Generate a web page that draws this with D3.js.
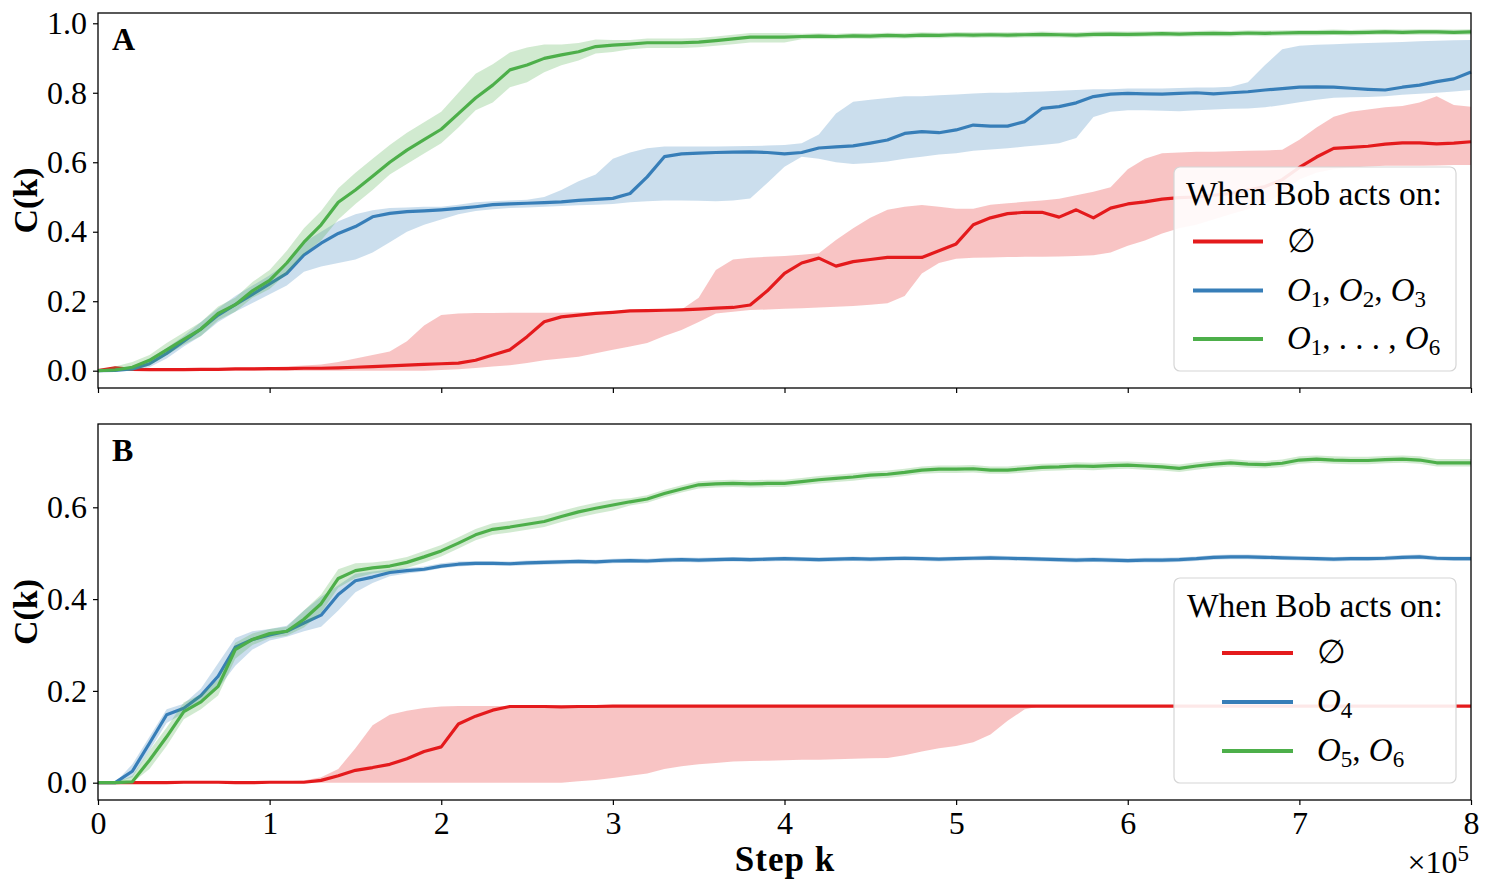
<!DOCTYPE html>
<html>
<head>
<meta charset="utf-8">
<script src="https://cdn.jsdelivr.net/npm/d3@7"></script>
<style>
  body { margin: 0; background: #fff; }
  svg text { font-family: "Liberation Serif", "DejaVu Serif", serif; fill: #000; }
</style>
</head>
<body>
<svg id="chart" width="1489" height="889"></svg>
<script>
// step k, in units of 1e5
const stepK = [0,0.1,0.2,0.3,0.4,0.5,0.6,0.7,0.8,0.9,
  1,1.1,1.2,1.3,1.4,1.5,1.6,1.7,1.8,1.9,
  2,2.1,2.2,2.3,2.4,2.5,2.6,2.7,2.8,2.9,
  3,3.1,3.2,3.3,3.4,3.5,3.6,3.7,3.8,3.9,
  4,4.1,4.2,4.3,4.4,4.5,4.6,4.7,4.8,4.9,
  5,5.1,5.2,5.3,5.4,5.5,5.6,5.7,5.8,5.9,
  6,6.1,6.2,6.3,6.4,6.5,6.6,6.7,6.8,6.9,
  7,7.1,7.2,7.3,7.4,7.5,7.6,7.7,7.8,7.9,
  8];

// ---- panel A ----
const aNoneMean = [0,0.008,0.004,0.003,0.003,0.003,0.004,0.004,0.005,0.005,
  0.006,0.006,0.007,0.007,0.008,0.01,0.012,0.014,0.016,0.018,
  0.02,0.022,0.03,0.045,0.06,0.098,0.141,0.155,0.16,0.165,
  0.168,0.172,0.173,0.174,0.175,0.177,0.18,0.182,0.189,0.23,
  0.28,0.31,0.324,0.301,0.314,0.32,0.326,0.326,0.326,0.345,
  0.365,0.42,0.44,0.452,0.456,0.456,0.442,0.463,0.44,0.468,
  0.48,0.486,0.494,0.498,0.5,0.505,0.51,0.52,0.53,0.55,
  0.585,0.615,0.64,0.643,0.646,0.652,0.656,0.656,0.653,0.655,
  0.659];
const aNoneHi = [0,0.012,0.008,0.006,0.006,0.006,0.007,0.007,0.008,0.009,
  0.01,0.012,0.015,0.018,0.025,0.035,0.045,0.055,0.085,0.13,
  0.16,0.165,0.166,0.166,0.167,0.167,0.167,0.167,0.168,0.168,
  0.169,0.172,0.173,0.175,0.176,0.21,0.29,0.32,0.325,0.328,
  0.33,0.334,0.338,0.376,0.41,0.44,0.463,0.472,0.477,0.472,
  0.466,0.466,0.478,0.482,0.486,0.49,0.495,0.505,0.515,0.528,
  0.58,0.61,0.626,0.628,0.63,0.63,0.632,0.633,0.634,0.636,
  0.665,0.7,0.731,0.745,0.752,0.758,0.762,0.772,0.79,0.765,
  0.76];
const aNoneLo = [0,0.002,0,0,0,0,0,0,0,0,
  0,0,0,0,0,0,0,0,0,0,
  0.002,0.004,0.008,0.012,0.016,0.022,0.03,0.035,0.04,0.05,
  0.06,0.07,0.08,0.1,0.117,0.14,0.165,0.17,0.175,0.176,
  0.178,0.18,0.182,0.184,0.186,0.19,0.194,0.215,0.28,0.31,
  0.322,0.325,0.326,0.327,0.328,0.328,0.329,0.33,0.332,0.34,
  0.36,0.375,0.395,0.41,0.42,0.435,0.45,0.465,0.48,0.51,
  0.55,0.57,0.58,0.585,0.588,0.59,0.59,0.59,0.591,0.592,
  0.592];

const aO123Mean = [0,0.001,0.005,0.02,0.05,0.085,0.12,0.16,0.19,0.22,
  0.25,0.28,0.333,0.367,0.395,0.415,0.443,0.453,0.458,0.46,
  0.463,0.467,0.472,0.478,0.48,0.482,0.484,0.486,0.49,0.493,
  0.496,0.51,0.558,0.616,0.624,0.626,0.628,0.629,0.63,0.628,
  0.624,0.628,0.641,0.644,0.647,0.655,0.664,0.683,0.688,0.685,
  0.693,0.707,0.704,0.704,0.717,0.755,0.76,0.771,0.789,0.796,
  0.798,0.797,0.796,0.798,0.8,0.797,0.8,0.803,0.808,0.812,
  0.816,0.817,0.816,0.813,0.81,0.808,0.816,0.822,0.832,0.84,
  0.86];
const aO123Hi = [0,0.005,0.012,0.035,0.065,0.1,0.14,0.18,0.215,0.245,
  0.275,0.31,0.37,0.4,0.43,0.45,0.462,0.468,0.47,0.472,
  0.472,0.478,0.485,0.488,0.49,0.492,0.5,0.52,0.545,0.565,
  0.61,0.628,0.64,0.645,0.645,0.645,0.645,0.646,0.647,0.648,
  0.65,0.655,0.68,0.74,0.774,0.78,0.785,0.79,0.79,0.793,
  0.795,0.798,0.8,0.8,0.802,0.804,0.806,0.808,0.81,0.81,
  0.812,0.812,0.812,0.814,0.815,0.815,0.817,0.83,0.88,0.925,
  0.935,0.938,0.94,0.942,0.943,0.945,0.946,0.948,0.95,0.951,
  0.952];
const aO123Lo = [0,0,0,0.01,0.035,0.07,0.1,0.14,0.17,0.195,
  0.22,0.245,0.285,0.3,0.31,0.32,0.34,0.37,0.4,0.42,
  0.435,0.45,0.46,0.465,0.468,0.47,0.472,0.474,0.476,0.478,
  0.48,0.485,0.488,0.49,0.49,0.489,0.488,0.49,0.496,0.54,
  0.587,0.616,0.61,0.6,0.595,0.598,0.602,0.61,0.616,0.622,
  0.626,0.633,0.637,0.64,0.645,0.65,0.655,0.67,0.73,0.745,
  0.75,0.75,0.748,0.747,0.75,0.752,0.754,0.755,0.758,0.765,
  0.773,0.78,0.786,0.787,0.788,0.79,0.794,0.797,0.8,0.804,
  0.808];

const aO1to6Mean = [0,0.002,0.01,0.03,0.06,0.09,0.12,0.165,0.19,0.23,
  0.26,0.31,0.37,0.42,0.485,0.52,0.56,0.6,0.635,0.665,
  0.695,0.74,0.785,0.822,0.866,0.88,0.899,0.909,0.918,0.933,
  0.937,0.94,0.944,0.944,0.944,0.946,0.95,0.955,0.96,0.96,
  0.96,0.962,0.963,0.962,0.964,0.963,0.965,0.964,0.966,0.965,
  0.967,0.966,0.967,0.966,0.967,0.968,0.967,0.966,0.968,0.969,
  0.968,0.969,0.97,0.969,0.97,0.971,0.97,0.972,0.971,0.972,
  0.973,0.973,0.974,0.973,0.974,0.975,0.974,0.975,0.975,0.974,
  0.975];
const aO1to6Hi = [0,0.012,0.025,0.045,0.08,0.11,0.14,0.185,0.21,0.255,
  0.29,0.345,0.41,0.46,0.525,0.57,0.61,0.65,0.685,0.715,
  0.745,0.8,0.855,0.882,0.916,0.93,0.939,0.939,0.943,0.953,
  0.952,0.952,0.956,0.956,0.956,0.958,0.962,0.967,0.972,0.972,
  0.972,0.97,0.971,0.97,0.972,0.971,0.973,0.972,0.974,0.973,
  0.975,0.974,0.975,0.974,0.975,0.976,0.975,0.974,0.976,0.977,
  0.976,0.977,0.978,0.977,0.978,0.979,0.978,0.98,0.979,0.98,
  0.981,0.981,0.982,0.981,0.982,0.983,0.982,0.983,0.983,0.982,
  0.983];
const aO1to6Lo = [0,0,0,0.015,0.045,0.075,0.1,0.145,0.17,0.21,
  0.235,0.28,0.335,0.375,0.435,0.48,0.52,0.565,0.595,0.625,
  0.655,0.7,0.75,0.772,0.816,0.83,0.859,0.879,0.893,0.913,
  0.917,0.925,0.929,0.929,0.929,0.931,0.935,0.94,0.945,0.945,
  0.945,0.954,0.955,0.954,0.956,0.955,0.957,0.956,0.958,0.957,
  0.959,0.958,0.959,0.958,0.959,0.96,0.959,0.958,0.96,0.961,
  0.96,0.961,0.962,0.961,0.962,0.963,0.962,0.964,0.963,0.964,
  0.965,0.965,0.966,0.965,0.966,0.967,0.966,0.967,0.967,0.966,
  0.967];

// ---- panel B ----
const bNoneMean = [0,0,0,0,0,0.001,0.001,0.001,0,0,
  0.001,0.001,0.001,0.005,0.015,0.027,0.033,0.04,0.052,0.068,
  0.078,0.128,0.145,0.158,0.166,0.166,0.166,0.165,0.166,0.166,
  0.167,0.167,0.167,0.167,0.167,0.167,0.167,0.167,0.167,0.167,
  0.167,0.167,0.167,0.167,0.167,0.167,0.167,0.167,0.167,0.167,
  0.167,0.167,0.167,0.167,0.167,0.167,0.167,0.167,0.167,0.167,
  0.167,0.167,0.167,0.167,0.167,0.167,0.167,0.167,0.167,0.167,
  0.167,0.167,0.167,0.167,0.167,0.167,0.167,0.167,0.167,0.167,
  0.167];
const bNoneHi = [0,0.001,0.001,0.001,0.001,0.002,0.002,0.002,0.002,0.002,
  0.003,0.003,0.005,0.012,0.03,0.075,0.125,0.148,0.157,0.163,
  0.166,0.167,0.167,0.167,0.167,0.167,0.167,0.167,0.167,0.167,
  0.167,0.167,0.167,0.167,0.167,0.167,0.167,0.167,0.167,0.167,
  0.167,0.167,0.167,0.167,0.167,0.167,0.167,0.167,0.167,0.167,
  0.167,0.167,0.167,0.167,0.167,0.167,0.167,0.167,0.167,0.167,
  0.167,0.167,0.167,0.167,0.167,0.167,0.167,0.167,0.167,0.167,
  0.167,0.167,0.167,0.167,0.167,0.167,0.167,0.167,0.167,0.167,
  0.167];
const bNoneLo = [0,0,0,0,0,0,0,0,0,0,
  0,0,0,0,0,0,0,0,0,0,
  0,0,0,0,0,0,0,0,0.003,0.006,
  0.01,0.015,0.02,0.03,0.036,0.04,0.043,0.046,0.047,0.048,
  0.049,0.05,0.05,0.051,0.052,0.053,0.054,0.06,0.068,0.075,
  0.08,0.088,0.105,0.135,0.16,0.167,0.167,0.167,0.167,0.167,
  0.167,0.167,0.167,0.167,0.167,0.167,0.167,0.167,0.167,0.167,
  0.167,0.167,0.167,0.167,0.167,0.167,0.167,0.167,0.167,0.167,
  0.167];

const bO4Mean = [0,0,0.025,0.086,0.148,0.162,0.19,0.232,0.295,0.312,
  0.322,0.33,0.348,0.365,0.41,0.44,0.448,0.458,0.462,0.465,
  0.472,0.476,0.478,0.478,0.477,0.479,0.48,0.481,0.482,0.481,
  0.483,0.484,0.483,0.485,0.486,0.485,0.486,0.487,0.486,0.487,
  0.488,0.487,0.486,0.487,0.488,0.487,0.488,0.489,0.488,0.487,
  0.488,0.489,0.49,0.489,0.488,0.487,0.486,0.485,0.486,0.485,
  0.484,0.485,0.485,0.486,0.488,0.491,0.492,0.492,0.491,0.49,
  0.489,0.488,0.487,0.488,0.488,0.489,0.491,0.492,0.489,0.488,
  0.488];
const bO4Hi = [0,0,0.04,0.1,0.16,0.172,0.205,0.26,0.315,0.33,
  0.335,0.342,0.375,0.405,0.43,0.455,0.46,0.465,0.468,0.471,
  0.478,0.482,0.483,0.483,0.482,0.484,0.485,0.486,0.487,0.486,
  0.488,0.489,0.488,0.49,0.491,0.49,0.491,0.492,0.491,0.492,
  0.493,0.492,0.491,0.492,0.493,0.492,0.493,0.494,0.493,0.492,
  0.493,0.494,0.495,0.494,0.493,0.492,0.491,0.49,0.491,0.49,
  0.489,0.49,0.49,0.491,0.493,0.496,0.497,0.497,0.496,0.495,
  0.494,0.493,0.492,0.493,0.493,0.494,0.496,0.497,0.494,0.493,
  0.493];
const bO4Lo = [0,0,0.012,0.07,0.13,0.152,0.175,0.205,0.255,0.29,
  0.31,0.318,0.33,0.34,0.375,0.415,0.435,0.45,0.456,0.46,
  0.467,0.471,0.473,0.473,0.472,0.474,0.475,0.476,0.477,0.476,
  0.478,0.479,0.478,0.48,0.481,0.48,0.481,0.482,0.481,0.482,
  0.483,0.482,0.481,0.482,0.483,0.482,0.483,0.484,0.483,0.482,
  0.483,0.484,0.485,0.484,0.483,0.482,0.481,0.48,0.481,0.48,
  0.479,0.48,0.48,0.481,0.483,0.486,0.487,0.487,0.486,0.485,
  0.484,0.483,0.482,0.483,0.483,0.484,0.486,0.487,0.484,0.483,
  0.483];

const bO56Mean = [0,0,0.002,0.049,0.1,0.155,0.176,0.21,0.29,0.312,
  0.325,0.33,0.356,0.39,0.445,0.462,0.468,0.472,0.48,0.492,
  0.505,0.522,0.54,0.552,0.557,0.563,0.569,0.58,0.59,0.598,
  0.605,0.612,0.618,0.63,0.64,0.649,0.651,0.652,0.651,0.652,
  0.652,0.656,0.66,0.663,0.666,0.67,0.672,0.676,0.681,0.683,
  0.683,0.684,0.681,0.681,0.684,0.687,0.688,0.69,0.689,0.691,
  0.692,0.69,0.688,0.685,0.69,0.694,0.697,0.694,0.693,0.696,
  0.703,0.705,0.703,0.702,0.702,0.704,0.705,0.703,0.697,0.697,
  0.697];
const bO56Hi = [0,0,0.015,0.07,0.12,0.175,0.192,0.225,0.305,0.325,
  0.335,0.34,0.375,0.41,0.465,0.478,0.48,0.484,0.492,0.505,
  0.518,0.535,0.553,0.565,0.57,0.576,0.582,0.592,0.602,0.61,
  0.617,0.62,0.626,0.638,0.648,0.657,0.659,0.66,0.659,0.66,
  0.66,0.664,0.668,0.671,0.674,0.678,0.68,0.684,0.689,0.691,
  0.691,0.692,0.689,0.689,0.692,0.695,0.696,0.698,0.697,0.699,
  0.7,0.698,0.696,0.693,0.698,0.702,0.705,0.702,0.701,0.704,
  0.711,0.713,0.711,0.71,0.71,0.712,0.713,0.711,0.705,0.705,
  0.705];
const bO56Lo = [0,0,0,0.03,0.08,0.138,0.16,0.19,0.27,0.3,
  0.315,0.32,0.338,0.37,0.425,0.446,0.456,0.46,0.468,0.48,
  0.493,0.51,0.528,0.54,0.545,0.551,0.557,0.568,0.578,0.586,
  0.593,0.604,0.61,0.622,0.632,0.641,0.643,0.644,0.643,0.644,
  0.644,0.648,0.652,0.655,0.658,0.662,0.664,0.668,0.673,0.675,
  0.675,0.676,0.673,0.673,0.676,0.679,0.68,0.682,0.681,0.683,
  0.684,0.682,0.68,0.677,0.682,0.686,0.689,0.686,0.685,0.688,
  0.695,0.697,0.695,0.694,0.694,0.696,0.697,0.695,0.689,0.689,
  0.689];

const xTicks = [0, 1, 2, 3, 4, 5, 6, 7, 8];
const yTicksA = [0, 0.2, 0.4, 0.6, 0.8, 1.0];
const yTicksB = [0, 0.2, 0.4, 0.6];
const legendTitle = 'When Bob acts on:';

const RED = '#e41a1c';
const BLUE = '#377eb8';
const GREEN = '#4daf4a';
const SERIF = '"Liberation Serif", "DejaVu Serif", serif';

const svg = d3.select('#chart');
const x = d3.scaleLinear().domain([0, 8]).range([98, 1471]);

// label pieces: it = italic O, sub = subscript digit
const labelsA = [
  [{ t: '\u2205' }],
  [{ t: 'O', it: 1 }, { t: '1', sub: 1 }, { t: ', ' }, { t: 'O', it: 1 }, { t: '2', sub: 1 }, { t: ', ' }, { t: 'O', it: 1 }, { t: '3', sub: 1 }],
  [{ t: 'O', it: 1 }, { t: '1', sub: 1 }, { t: ', . . . , ' }, { t: 'O', it: 1 }, { t: '6', sub: 1 }]
];
const labelsB = [
  [{ t: '\u2205' }],
  [{ t: 'O', it: 1 }, { t: '4', sub: 1 }],
  [{ t: 'O', it: 1 }, { t: '5', sub: 1 }, { t: ', ' }, { t: 'O', it: 1 }, { t: '6', sub: 1 }]
];

const panels = [
  {
    name: 'A', top: 13, bottom: 388, domain: [-0.0498, 1.0296], yTicks: yTicksA, xLabels: false,
    series: [
      { mean: aNoneMean, lo: aNoneLo, hi: aNoneHi, color: RED },
      { mean: aO123Mean, lo: aO123Lo, hi: aO123Hi, color: BLUE },
      { mean: aO1to6Mean, lo: aO1to6Lo, hi: aO1to6Hi, color: GREEN }
    ],
    legend: { x0: 1174, y0: 167, w: 282, h: 204, titleX: 1186, titleY: 205, lineX0: 1193, lineX1: 1263, labelX: 1287, rows: [241.5, 290.5, 339], labels: labelsA }
  },
  {
    name: 'B', top: 424, bottom: 800, domain: [-0.0377, 0.7815], yTicks: yTicksB, xLabels: true,
    series: [
      { mean: bNoneMean, lo: bNoneLo, hi: bNoneHi, color: RED },
      { mean: bO4Mean, lo: bO4Lo, hi: bO4Hi, color: BLUE },
      { mean: bO56Mean, lo: bO56Lo, hi: bO56Hi, color: GREEN }
    ],
    legend: { x0: 1174, y0: 578, w: 282, h: 205, titleX: 1187, titleY: 617, lineX0: 1222, lineX1: 1293, labelX: 1317, rows: [653, 702, 751], labels: labelsB }
  }
];

function drawPanel(p) {
  const y = d3.scaleLinear().domain(p.domain).range([p.bottom, p.top]);
  const g = svg.append('g').attr('class', `panel-${p.name}`);

  const area = d3.area()
    .x((d, i) => x(stepK[i]))
    .y0(d => y(d[0]))
    .y1(d => y(d[1]));
  const line = d3.line()
    .x((d, i) => x(stepK[i]))
    .y(d => y(d));

  p.series.forEach(s => {
    const band = s.lo.map((lo, i) => [lo, s.hi[i]]);
    g.append('path')
      .datum(band)
      .attr('d', area)
      .attr('fill', s.color)
      .attr('fill-opacity', 0.26)
      .attr('stroke', 'none');
    g.append('path')
      .datum(s.mean)
      .attr('d', line)
      .attr('fill', 'none')
      .attr('stroke', s.color)
      .attr('stroke-width', 3.2)
      .attr('stroke-linejoin', 'round');
  });

  // axes
  const axisY = d3.axisLeft(y)
    .tickValues(p.yTicks)
    .tickSize(5)
    .tickPadding(6)
    .tickFormat(d3.format('.1f'));
  const gy = g.append('g').attr('transform', 'translate(98,0)').call(axisY);

  const axisX = d3.axisBottom(x)
    .tickValues(xTicks)
    .tickSize(5)
    .tickPadding(6)
    .tickFormat(p.xLabels ? d => d : '');
  const gx = g.append('g').attr('transform', `translate(0,${p.bottom})`).call(axisX);

  [gx, gy].forEach(a => {
    a.select('.domain').remove();
    a.attr('font-family', SERIF).attr('font-size', 32);
    a.selectAll('line').attr('stroke', '#000').attr('stroke-width', 1.2);
    a.selectAll('text').style('font-family', SERIF).style('font-size', '32px');
  });

  // frame
  g.append('rect')
    .attr('x', 98).attr('y', p.top)
    .attr('width', 1471 - 98).attr('height', p.bottom - p.top)
    .attr('fill', 'none').attr('stroke', '#000').attr('stroke-width', 1.3);

  // panel letter
  g.append('text')
    .attr('x', 112).attr('y', p.top + 37)
    .style('font-family', SERIF)
    .style('font-size', '32px').style('font-weight', 'bold')
    .text(p.name);

  // y label
  g.append('text')
    .attr('transform', `translate(37,${(p.top + p.bottom) / 2}) rotate(-90)`)
    .attr('text-anchor', 'middle')
    .style('font-family', SERIF)
    .style('font-size', '34px').style('font-weight', 'bold')
    .text('C(k)');

  // legend
  const L = p.legend;
  const lg = g.append('g').attr('class', 'legend');
  lg.append('rect')
    .attr('x', L.x0).attr('y', L.y0).attr('width', L.w).attr('height', L.h)
    .attr('rx', 6).attr('ry', 6)
    .attr('fill', '#fff').attr('fill-opacity', 0.9)
    .attr('stroke', '#d6d6d6').attr('stroke-width', 1.2);
  lg.append('text')
    .attr('x', L.titleX).attr('y', L.titleY)
    .style('font-family', SERIF)
    .style('font-size', '33.5px')
    .text(legendTitle);
  p.series.forEach((s, i) => {
    const ry = L.rows[i];
    lg.append('line')
      .attr('x1', L.lineX0).attr('x2', L.lineX1)
      .attr('y1', ry).attr('y2', ry)
      .attr('stroke', s.color).attr('stroke-width', 4);
    const t = lg.append('text')
      .attr('x', L.labelX).attr('y', ry + 10)
      .style('font-family', SERIF)
      .style('font-size', '33px');
    let shifted = false;
    L.labels[i].forEach(part => {
      const ts = t.append('tspan').text(part.t);
      if (part.it) ts.style('font-style', 'italic');
      if (part.sub) {
        ts.attr('dy', 6).style('font-size', '23px');
        shifted = true;
      } else if (shifted) {
        ts.attr('dy', -6);
        shifted = false;
      }
    });
  });
}

panels.forEach(drawPanel);

// x label and multiplier
svg.append('text')
  .attr('x', 785).attr('y', 871)
  .attr('text-anchor', 'middle')
  .style('font-family', SERIF)
  .style('font-size', '35px').style('font-weight', 'bold')
  .style('letter-spacing', '1px')
  .text('Step k');

const mult = svg.append('text')
  .attr('x', 1469).attr('y', 873)
  .attr('text-anchor', 'end')
  .style('font-family', SERIF)
  .style('font-size', '32px');
mult.append('tspan').text('\u00d710');
mult.append('tspan').attr('dy', -12).style('font-size', '23px').text('5');
</script>
</body>
</html>
